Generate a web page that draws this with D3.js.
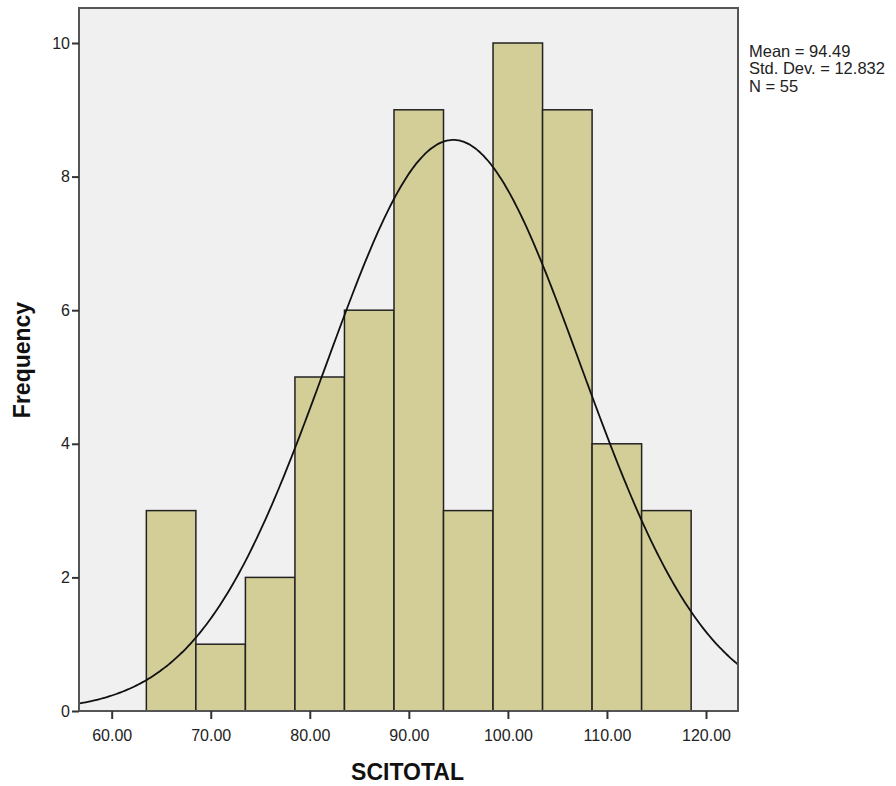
<!DOCTYPE html>
<meta charset="utf-8">
<head>
<style>
  body { margin: 0; background: #fff; }
  text { font-family: "Liberation Sans", Arial, sans-serif; }
</style>
</head>
<body>
<div id="chartId"></div>
<script src="https://d3js.org/d3.v7.min.js"></script>
<script>

// data
var binStarts = [63.5, 68.5, 73.5, 78.5, 83.5, 88.5, 93.5, 98.5, 103.5, 108.5, 113.5];
var counts = [3, 1, 2, 5, 6, 9, 3, 10, 9, 4, 3];
var binWidth = 5;
var xTicks = [60, 70, 80, 90, 100, 110, 120];
var yTicks = [0, 2, 4, 6, 8, 10];
var mean = 94.49, sd = 12.832, n = 55;
var statLines = ["Mean = 94.49", "Std. Dev. = 12.832", "N = 55"];

var width = 896, height = 786;
var plotLeft = 79, plotRight = 738, plotTop = 8, plotBottom = 711;

var svg = d3.select('#chartId').append('svg')
    .attr('width', width)
    .attr('height', height);

var x = d3.scaleLinear().domain([56.7, 123.23]).range([plotLeft, plotRight]);
var y = d3.scaleLinear().domain([0, 10]).range([plotBottom, 43]);

// plot background
svg.append('rect')
    .attr('x', plotLeft).attr('y', plotTop)
    .attr('width', plotRight - plotLeft).attr('height', plotBottom - plotTop)
    .attr('fill', '#f0f0f0');

// bars
svg.selectAll('rect.bar')
    .data(counts)
    .enter()
    .append('rect')
    .attr('class', 'bar')
    .attr('x', function(d, i) { return x(binStarts[i]); })
    .attr('y', function(d) { return y(d); })
    .attr('width', function(d, i) { return x(binStarts[i] + binWidth) - x(binStarts[i]); })
    .attr('height', function(d) { return plotBottom - y(d); })
    .attr('fill', '#d3ce97')
    .attr('stroke', '#222')
    .attr('stroke-width', 1.5);

// normal curve
var scaleK = n * binWidth / (sd * Math.sqrt(2 * Math.PI));
var curve = d3.range(0, 301).map(function(i) {
    var v = 56.7 + (123.23 - 56.7) * i / 300;
    return [v, scaleK * Math.exp(-0.5 * Math.pow((v - mean) / sd, 2))];
});
svg.append('path')
    .datum(curve)
    .attr('fill', 'none')
    .attr('stroke', '#111')
    .attr('stroke-width', 1.8)
    .attr('d', d3.line()
        .x(function(d) { return x(d[0]); })
        .y(function(d) { return y(d[1]); })
        .curve(d3.curveBasis));

// frame
svg.append('rect')
    .attr('x', plotLeft).attr('y', plotTop)
    .attr('width', plotRight - plotLeft).attr('height', plotBottom - plotTop)
    .attr('fill', 'none')
    .attr('stroke', '#555')
    .attr('stroke-width', 2);

// axes
var xAxis = svg.append('g')
    .attr('transform', 'translate(0,' + plotBottom + ')')
    .call(d3.axisBottom(x).tickValues(xTicks).tickSize(8).tickSizeOuter(0)
        .tickFormat(function(d) { return d.toFixed(2); }));
xAxis.select('.domain').remove();
xAxis.selectAll('line').attr('stroke', '#333').attr('stroke-width', 2);
xAxis.selectAll('text').attr('font-size', 16).attr('fill', '#222').attr('dy', '1.2em')
    .style('font-family', '"Liberation Sans", Arial, sans-serif');

var yAxis = svg.append('g')
    .attr('transform', 'translate(' + plotLeft + ',0)')
    .call(d3.axisLeft(y).tickValues(yTicks).tickSize(7).tickSizeOuter(0));
yAxis.select('.domain').remove();
yAxis.selectAll('line').attr('stroke', '#333').attr('stroke-width', 2);
yAxis.selectAll('text').attr('font-size', 16).attr('fill', '#222').attr('x', -9)
    .style('font-family', '"Liberation Sans", Arial, sans-serif');

// axis titles
svg.append('text')
    .attr('x', (plotLeft + plotRight) / 2 - 1)
    .attr('y', 780)
    .attr('text-anchor', 'middle')
    .attr('font-size', 23)
    .attr('font-weight', 'bold')
    .attr('fill', '#111')
    .text('SCITOTAL');

svg.append('text')
    .attr('transform', 'translate(30,360) rotate(-90)')
    .attr('text-anchor', 'middle')
    .attr('font-size', 23)
    .attr('font-weight', 'bold')
    .attr('fill', '#111')
    .text('Frequency');

// stats
svg.selectAll('text.stat')
    .data(statLines)
    .enter()
    .append('text')
    .attr('class', 'stat')
    .attr('x', 749)
    .attr('y', function(d, i) { return 56.5 + i * 17.7; })
    .attr('font-size', 16.5)
    .attr('fill', '#222')
    .text(function(d) { return d; });

</script>
</body>
